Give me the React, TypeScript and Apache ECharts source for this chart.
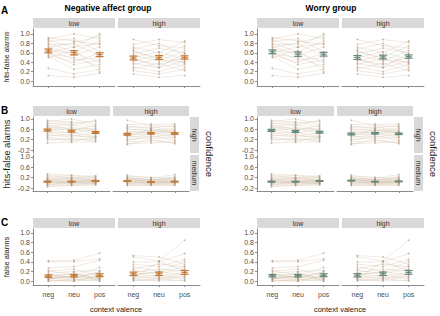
import React, { useEffect, useRef } from "react";
import * as echarts from "echarts";

// ---------- DATA ----------
const valence = ["neg", "neu", "pos"];
const facetLevels = ["low", "high"];
const confLevels = ["high", "medium"];
const groupTitles = ["Negative affect group", "Worry group"];

// individual participants: [neg, neu, pos]
const indA_low = [
  [0.92, 0.85, 0.78], [0.9, 1.0, 0.9], [0.87, 0.72, 1.0], [0.84, 0.9, 0.62],
  [0.8, 0.62, 0.85], [0.77, 0.78, 0.55], [0.74, 0.55, 0.72], [0.71, 0.82, 0.95],
  [0.68, 0.45, 0.5], [0.65, 0.6, 0.4], [0.62, 0.72, 0.8], [0.6, 0.35, 0.45],
  [0.58, 0.5, 0.3], [0.55, 0.4, 0.6], [0.52, 0.25, 0.35], [0.5, 0.65, 0.2],
  [0.27, 0.15, 0.25], [0.12, 0.08, 0.17],
];
const indA_high = [
  [0.88, 0.75, 0.7], [0.78, 0.88, 0.82], [0.72, 0.6, 0.85], [0.68, 0.8, 0.55],
  [0.65, 0.45, 0.4], [0.62, 0.5, 0.75], [0.58, 0.7, 0.6], [0.55, 0.42, 0.65],
  [0.5, 0.62, 0.45], [0.48, 0.3, 0.58], [0.45, 0.35, 0.5], [0.42, 0.55, 0.38],
  [0.38, 0.28, 0.42], [0.35, 0.48, 0.3], [0.3, 0.2, 0.35], [0.26, 0.38, 0.22],
  [0.22, 0.15, 0.25], [0.15, 0.08, 0.12],
];
const indBh_low = [
  [0.95, 0.85, 0.9], [0.9, 1.0, 0.8], [0.85, 0.75, 0.95], [0.8, 0.9, 0.7],
  [0.75, 0.6, 0.65], [0.72, 0.8, 0.55], [0.68, 0.55, 0.75], [0.65, 0.7, 0.5],
  [0.6, 0.45, 0.6], [0.55, 0.65, 0.4], [0.5, 0.35, 0.45], [0.45, 0.5, 0.3],
  [0.4, 0.3, 0.35], [0.35, 0.4, 0.25], [0.3, 0.2, 0.2], [0.25, 0.15, 0.3],
  [0.08, 0.1, 0.12], [0.18, 0.25, 0.15],
];
const indBh_high = [
  [0.95, 0.75, 0.7], [0.78, 0.8, 0.8], [0.72, 0.65, 0.75], [0.68, 0.7, 0.55],
  [0.62, 0.55, 0.65], [0.58, 0.62, 0.5], [0.52, 0.45, 0.6], [0.48, 0.55, 0.45],
  [0.42, 0.4, 0.52], [0.38, 0.5, 0.35], [0.32, 0.3, 0.4], [0.28, 0.42, 0.3],
  [0.22, 0.25, 0.28], [0.18, 0.35, 0.2], [0.12, 0.15, 0.15], [0.05, 0.08, 0.1],
  [0.02, 0.2, 0.05], [0.35, 0.6, 0.45],
];
const indBm_low = [
  [0.35, 0.3, 0.25], [0.3, 0.2, 0.28], [0.25, 0.28, 0.18], [0.2, 0.15, 0.22],
  [0.18, 0.22, 0.12], [0.15, 0.1, 0.15], [0.12, 0.18, 0.1], [0.1, 0.05, 0.12],
  [0.08, 0.12, 0.05], [0.05, 0.0, 0.08], [0.02, 0.08, 0.02], [0.0, -0.02, 0.05],
  [-0.02, 0.05, -0.02], [-0.05, -0.05, 0.0], [-0.08, 0.02, -0.05], [-0.1, -0.08, -0.03],
  [-0.15, -0.1, -0.08], [0.06, 0.03, 0.1],
];
const indBm_high = [
  [0.3, 0.18, 0.32], [0.25, 0.22, 0.15], [0.22, 0.1, 0.25], [0.18, 0.15, 0.12],
  [0.15, 0.05, 0.18], [0.12, 0.12, 0.08], [0.1, 0.02, 0.1], [0.08, 0.08, 0.05],
  [0.05, 0.0, 0.06], [0.02, 0.05, 0.0], [0.0, -0.03, 0.03], [-0.02, 0.02, -0.02],
  [-0.05, -0.05, -0.04], [-0.08, -0.1, -0.06], [-0.1, -0.06, -0.1], [0.2, 0.12, 0.2],
  [0.07, -0.02, 0.02], [0.14, 0.06, 0.08],
];
const indC_low = [
  [0.42, 0.43, 0.58], [0.4, 0.4, 0.46], [0.27, 0.3, 0.43], [0.22, 0.12, 0.28],
  [0.2, 0.25, 0.1], [0.16, 0.2, 0.22], [0.14, 0.08, 0.15], [0.12, 0.15, 0.05],
  [0.1, 0.05, 0.12], [0.08, 0.1, 0.18], [0.06, 0.02, 0.08], [0.05, 0.08, 0.02],
  [0.03, 0.12, 0.05], [0.02, 0.0, 0.1], [0.0, 0.03, 0.0], [0.0, 0.0, 0.03],
  [0.04, 0.18, 0.0], [0.13, 0.06, 0.2],
];
const indC_high = [
  [0.53, 0.5, 0.35], [0.5, 0.42, 0.85], [0.4, 0.4, 0.57], [0.35, 0.3, 0.45],
  [0.3, 0.2, 0.4], [0.25, 0.35, 0.3], [0.22, 0.15, 0.25], [0.18, 0.25, 0.2],
  [0.15, 0.1, 0.18], [0.12, 0.2, 0.12], [0.1, 0.05, 0.15], [0.08, 0.12, 0.08],
  [0.05, 0.08, 0.05], [0.03, 0.02, 0.1], [0.02, 0.0, 0.02], [0.0, 0.05, 0.0],
  [0.06, 0.4, 0.22], [0.14, 0.18, 0.3],
];

// group means [low facet, high facet] and standard errors
const naMeanA = [[0.64, 0.6, 0.56], [0.49, 0.5, 0.5]];
const naMeanBh = [[0.57, 0.53, 0.48], [0.41, 0.45, 0.44]];
const naMeanBm = [[0.05, 0.05, 0.07], [0.07, 0.04, 0.05]];
const naMeanC = [[0.1, 0.11, 0.12], [0.15, 0.15, 0.18]];
const wMeanA = [[0.62, 0.57, 0.57], [0.5, 0.51, 0.52]];
const wMeanBh = [[0.56, 0.52, 0.49], [0.42, 0.45, 0.43]];
const wMeanBm = [[0.05, 0.05, 0.07], [0.09, 0.05, 0.06]];
const wMeanC = [[0.11, 0.11, 0.12], [0.12, 0.15, 0.18]];
const seA = [[0.04, 0.045, 0.04], [0.04, 0.04, 0.035]];
const seBh = [[0.04, 0.04, 0.035], [0.035, 0.03, 0.03]];
const seBm = [[0.02, 0.015, 0.015], [0.015, 0.012, 0.015]];
const seC = [[0.025, 0.025, 0.03], [0.035, 0.035, 0.04]];

const ticksA = [0, 0.2, 0.4, 0.6, 0.8, 1.0];
const ticksB = [-0.2, 0.2, 0.6, 1.0];
const ticksC = [0, 0.2, 0.4, 0.6, 0.8, 1.0];

// ---------- STYLE / LAYOUT ----------
const FONT = "'Liberation Sans', Arial, sans-serif";
const AX = "#8a8a8a";
const LBL = "#4d4d4d";
const STRIP = "#d9d9d9";
const groupColors = ["#c57a36", "#66897c"];
const groupOffsets = [0, 224];

const layouts = [
  { key: "A", facet: 0, left: 33, top: 29, width: 82, height: 57, yMin: -0.104, yMax: 1.104, ticks: ticksA, showY: true, xLine: true, xLabels: false },
  { key: "A", facet: 1, left: 118, top: 29, width: 82, height: 57, yMin: -0.104, yMax: 1.104, ticks: ticksA, showY: false, xLine: true, xLabels: false },
  { key: "Bh", facet: 0, left: 33, top: 117, width: 77, height: 36, yMin: -0.31, yMax: 1.075, ticks: ticksB, showY: true, xLine: false, xLabels: false },
  { key: "Bh", facet: 1, left: 113, top: 117, width: 76, height: 36, yMin: -0.31, yMax: 1.075, ticks: ticksB, showY: false, xLine: false, xLabels: false },
  { key: "Bm", facet: 0, left: 33, top: 155, width: 77, height: 36, yMin: -0.31, yMax: 1.075, ticks: ticksB, showY: true, xLine: true, xLabels: false },
  { key: "Bm", facet: 1, left: 113, top: 155, width: 76, height: 36, yMin: -0.31, yMax: 1.075, ticks: ticksB, showY: false, xLine: true, xLabels: false },
  { key: "C", facet: 0, left: 33, top: 229, width: 82, height: 56, yMin: -0.083, yMax: 1.083, ticks: ticksC, showY: true, xLine: true, xLabels: true },
  { key: "C", facet: 1, left: 118, top: 229, width: 82, height: 56, yMin: -0.083, yMax: 1.083, ticks: ticksC, showY: false, xLine: true, xLabels: true },
];

const individuals: Record<string, number[][][]> = {
  A: [indA_low, indA_high],
  Bh: [indBh_low, indBh_high],
  Bm: [indBm_low, indBm_high],
  C: [indC_low, indC_high],
};
const groupMeans: Record<string, number[][]>[] = [
  { A: naMeanA, Bh: naMeanBh, Bm: naMeanBm, C: naMeanC },
  { A: wMeanA, Bh: wMeanBh, Bm: wMeanBm, C: wMeanC },
];
const groupSE: Record<string, number[][]> = { A: seA, Bh: seBh, Bm: seBm, C: seC };

function txt(x: number, y: number, text: string, size: number, opts: any = {}) {
  return {
    type: "text",
    x,
    y,
    rotation: opts.rotation || 0,
    silent: true,
    style: {
      text,
      fontSize: size,
      fontFamily: FONT,
      fontWeight: opts.bold ? "bold" : "normal",
      fill: opts.color || "#1a1a1a",
      textAlign: opts.align || "center",
      textVerticalAlign: "middle",
    },
  };
}

function buildOption() {
  const grid: any[] = [];
  const xAxis: any[] = [];
  const yAxis: any[] = [];
  const series: any[] = [];
  const graphic: any[] = [];

  groupOffsets.forEach((off, gi) => {
    const color = groupColors[gi];
    layouts.forEach((L) => {
      const idx = grid.length;
      grid.push({ left: L.left + off, top: L.top, width: L.width, height: L.height });
      xAxis.push({
        type: "value",
        gridIndex: idx,
        min: 0.4,
        max: 3.6,
        axisLine: { show: L.xLine, onZero: false, lineStyle: { color: AX, width: 1 } },
        axisTick: { show: L.xLine, customValues: [1, 2, 3], length: 2, lineStyle: { color: AX } },
        axisLabel: {
          show: L.xLabels,
          customValues: [1, 2, 3],
          formatter: (v: number) => "{v|" + (valence[Math.round(v) - 1] || "") + "}",
          rich: { v: { fontSize: 7, fontFamily: FONT, color: LBL } },
          fontSize: 7,
          fontFamily: FONT,
          color: LBL,
          margin: 6,
        },
        splitLine: { show: false },
      });
      yAxis.push({
        type: "value",
        gridIndex: idx,
        min: L.yMin,
        max: L.yMax,
        axisLine: { show: L.showY, onZero: false, lineStyle: { color: AX, width: 1 } },
        axisTick: { show: L.showY, customValues: L.ticks, length: 2, lineStyle: { color: AX } },
        axisLabel: {
          show: L.showY,
          customValues: L.ticks,
          formatter: (v: number) => v.toFixed(1),
          fontSize: 7,
          fontFamily: FONT,
          color: LBL,
          margin: 3,
        },
        splitLine: { show: false },
      });
      individuals[L.key][L.facet].forEach((row) => {
        series.push({
          type: "line",
          xAxisIndex: idx,
          yAxisIndex: idx,
          data: row.map((v, i) => [i + 1, v]),
          symbol: "circle",
          symbolSize: 1.8,
          silent: true,
          z: 1,
          lineStyle: { width: 0.6, color: "rgba(200,175,150,0.45)" },
          itemStyle: { color: "rgba(175,145,120,0.6)" },
        });
      });
      const means = groupMeans[gi][L.key][L.facet];
      const ses = groupSE[L.key][L.facet];
      series.push({
        type: "custom",
        xAxisIndex: idx,
        yAxisIndex: idx,
        z: 10,
        silent: true,
        data: means.map((m, i) => [i + 1, m, ses[i]]),
        renderItem: (params: any, api: any) => {
          const x = api.value(0);
          const m = api.value(1);
          const s = api.value(2);
          const pm = api.coord([x, m]);
          const pt = api.coord([x, m + s]);
          const pb = api.coord([x, m - s]);
          const hw = 4;
          const st = { stroke: color, lineWidth: 1.2 };
          return {
            type: "group",
            children: [
              { type: "line", shape: { x1: pm[0], y1: pt[1], x2: pm[0], y2: pb[1] }, style: st },
              { type: "line", shape: { x1: pm[0] - hw, y1: pt[1], x2: pm[0] + hw, y2: pt[1] }, style: st },
              { type: "line", shape: { x1: pm[0] - hw, y1: pb[1], x2: pm[0] + hw, y2: pb[1] }, style: st },
              { type: "line", shape: { x1: pm[0] - hw + 1, y1: pm[1], x2: pm[0] + hw - 1, y2: pm[1] }, style: st },
            ],
          };
        },
      });
    });

    // top facet strips
    const stripRows = [
      { y: 18, lefts: [33, 118], widths: [82, 82] },
      { y: 106, lefts: [33, 113], widths: [77, 76] },
      { y: 218, lefts: [33, 118], widths: [82, 82] },
    ];
    stripRows.forEach((r) => {
      r.lefts.forEach((l, fi) => {
        graphic.push({ type: "rect", silent: true, shape: { x: l + off, y: r.y, width: r.widths[fi], height: 10 }, style: { fill: STRIP } });
        graphic.push(txt(l + off + r.widths[fi] / 2, r.y + 5.5, facetLevels[fi], 7, { color: "#333" }));
      });
    });
    // right confidence strips
    [117, 155].forEach((y, ci) => {
      graphic.push({ type: "rect", silent: true, shape: { x: 190 + off, y, width: 9, height: 36 }, style: { fill: STRIP } });
      graphic.push(txt(194.5 + off, y + 18, confLevels[ci], 7, { rotation: -Math.PI / 2, color: "#333" }));
    });
    graphic.push(txt(209 + off, 154, "confidence", 9.5, { rotation: -Math.PI / 2 }));
    graphic.push(txt(116 + off, 309, "context valence", 7.5));
    graphic.push(txt(gi === 0 ? 108 : 331, 8, groupTitles[gi], 8.5, { bold: true, color: "#000" }));
  });

  // y-axis titles (left group only)
  graphic.push(txt(6, 57, "hits-false alarms", 7, { rotation: Math.PI / 2 }));
  graphic.push(txt(6, 154, "hits-false alarms", 9.5, { rotation: Math.PI / 2 }));
  graphic.push(txt(6, 257, "false alarms", 7.5, { rotation: Math.PI / 2 }));
  // panel letters
  graphic.push(txt(1, 10, "A", 10, { bold: true, align: "left", color: "#000" }));
  graphic.push(txt(1, 110, "B", 10, { bold: true, align: "left", color: "#000" }));
  graphic.push(txt(1, 222, "C", 10, { bold: true, align: "left", color: "#000" }));

  return {
    animation: false,
    backgroundColor: "#ffffff",
    textStyle: { fontFamily: FONT },
    grid,
    xAxis,
    yAxis,
    series,
    graphic,
  };
}

export default function App() {
  const ref = useRef<HTMLDivElement>(null);
  useEffect(() => {
    if (!ref.current) return;
    const chart = echarts.init(ref.current, undefined, { renderer: "svg" });
    chart.setOption(buildOption() as any);
    return () => chart.dispose();
  }, []);
  return (
    <div
      ref={ref}
      style={{ position: "fixed", left: 0, top: 0, width: 440, height: 316, background: "#fff" }}
    />
  );
}
